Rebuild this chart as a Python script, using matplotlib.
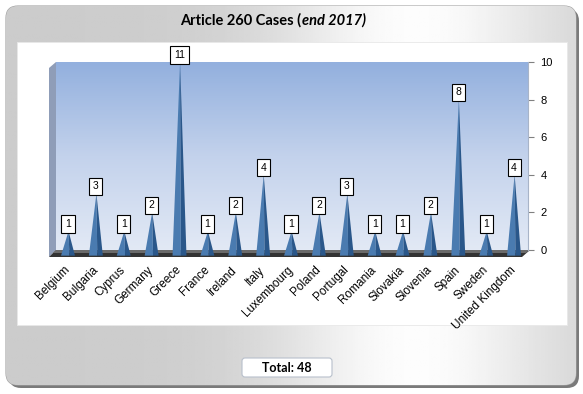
import numpy as np
import matplotlib
matplotlib.use("Agg")
import matplotlib.pyplot as plt
from matplotlib.patches import FancyBboxPatch, Polygon
from matplotlib.colors import LinearSegmentedColormap

countries = ["Belgium", "Bulgaria", "Cyprus", "Germany", "Greece", "France", "Ireland",
             "Italy", "Luxembourg", "Poland", "Portugal", "Romania", "Slovakia",
             "Slovenia", "Spain", "Sweden", "United Kingdom"]
cases = [1, 3, 1, 2, 11, 1, 2, 4, 1, 2, 3, 1, 1, 2, 8, 1, 4]
yticks = [0, 2, 4, 6, 8, 10]
title_main = "Article 260 Cases ("
title_ital = "end 2017)"

W, H = 583, 394
fig = plt.figure(figsize=(W / 100, H / 100), dpi=100)
fig.patch.set_facecolor("white")

bg = fig.add_axes([0, 0, 1, 1])
bg.set_xlim(0, W)
bg.set_ylim(H, 0)
bg.axis("off")

shadow = FancyBboxPatch((9, 9), 570, 379, boxstyle="round,pad=0,rounding_size=12",
                        facecolor="#7a7a7a", edgecolor="none", zorder=0)
bg.add_patch(shadow)
panel = FancyBboxPatch((6, 6), 570, 379, boxstyle="round,pad=0,rounding_size=12",
                       facecolor="#d8d8d8", edgecolor="#a0a0a0", linewidth=0.8, zorder=1)
bg.add_patch(panel)
xs = np.linspace(0, 1, 300)
g = 0.80 + 0.19 * np.exp(-((xs - 0.72) / 0.25) ** 2)
grad = np.tile(g, (20, 1))
im = bg.imshow(grad, extent=[6, 576, 385, 6], cmap="gray", vmin=0, vmax=1,
               aspect="auto", zorder=2)
im.set_clip_path(panel)

bg.add_patch(plt.Rectangle((17, 42), 550, 283, facecolor="white", edgecolor="#e8e8e8",
                           linewidth=0.6, zorder=3))

side = Polygon([(49, 68), (56, 62), (56, 250), (49, 257)], closed=True,
               facecolor="#8f9db8", edgecolor="none", zorder=4)
bg.add_patch(side)
floor = Polygon([(49, 257), (56, 250), (530, 250), (522, 257)], closed=True,
                facecolor="#333333", edgecolor="none", zorder=4)
bg.add_patch(floor)
floor_top = Polygon([(53, 253), (56, 250), (530, 250), (526, 253)], closed=True,
                    facecolor="#6a6a6a", edgecolor="none", zorder=4)
bg.add_patch(floor_top)

# title, scaled to the reference width
fs = 10.5
t1 = bg.text(0, 20, title_main, fontsize=fs, fontweight="bold", family="Lato",
             va="center", ha="left", zorder=6)
t2 = bg.text(0, 20, title_ital, fontsize=fs, fontweight="bold", style="italic",
             family="Lato", va="center", ha="left", zorder=6)
fig.canvas.draw()
r = fig.canvas.get_renderer()
wt = t1.get_window_extent(r).width + t2.get_window_extent(r).width
fs2 = fs * 185 / wt
t1.set_fontsize(fs2)
t2.set_fontsize(fs2)
fig.canvas.draw()
w1 = t1.get_window_extent(r).width
w2 = t2.get_window_extent(r).width
x0 = 273 - (w1 + w2) / 2
t1.set_x(x0)
t2.set_x(x0 + w1)

total = sum(cases)
bg.add_patch(FancyBboxPatch((242, 358), 90, 19, boxstyle="round,pad=0,rounding_size=3",
                            facecolor="white", edgecolor="#b8c0cc", linewidth=0.8, zorder=5))
bg.text(287, 368, f"Total: {total}", fontsize=9, fontweight="bold", family="Lato",
        ha="center", va="center", zorder=6)

L, R, T, B = 56, 528, 62, 250
ax = fig.add_axes([L / W, (H - B) / H, (R - L) / W, (B - T) / H])
ax.set_facecolor("none")
ax.set_xlim(-0.43, 16.5)
ax.set_ylim(0, 10)
wall_cmap = LinearSegmentedColormap.from_list("wall", ["#e2e9f5", "#c3d2ec", "#93b0de"])
ax.imshow(np.linspace(0, 1, 100).reshape(-1, 1), extent=[0, 1, 0, 1], origin="lower",
          transform=ax.transAxes, cmap=wall_cmap, aspect="auto", zorder=0)
for s in ["top", "left", "bottom"]:
    ax.spines[s].set_visible(False)
ax.spines["right"].set_color("#a8b4c8")
ax.spines["right"].set_linewidth(0.8)

ax.yaxis.tick_right()
ax.set_yticks(yticks)
ax.set_yticklabels([str(v) for v in yticks], family="Liberation Sans", fontsize=8)
ax.tick_params(axis="y", length=4, direction="out", color="#808080", pad=5)

ax.set_xticks(range(len(countries)))
ax.set_xticklabels(countries, rotation=45, ha="right", va="center", rotation_mode="anchor",
                   family="Liberation Sans", fontsize=8.5)
ax.tick_params(axis="x", length=0, pad=13)

hw = 0.25
base = -0.3
for i, v in enumerate(cases):
    top = min(v, 10)
    ax.add_patch(Polygon([(i - hw, base), (i + 0.02, top), (i + 0.05, base)], closed=True,
                         facecolor="#4a7bb0", edgecolor="none", zorder=3, clip_on=False))
    ax.add_patch(Polygon([(i + 0.05, base), (i + 0.02, top), (i + hw, base)], closed=True,
                         facecolor="#2a578a", edgecolor="none", zorder=3, clip_on=False))
    ax.text(i, top + 0.38, str(v), fontsize=7.5, family="Liberation Sans",
            ha="center", va="center", zorder=5, clip_on=False,
            bbox=dict(boxstyle="square,pad=0.35", facecolor="white",
                      edgecolor="black", linewidth=0.8))

fig.savefig("out.png", dpi=100, facecolor="white")
